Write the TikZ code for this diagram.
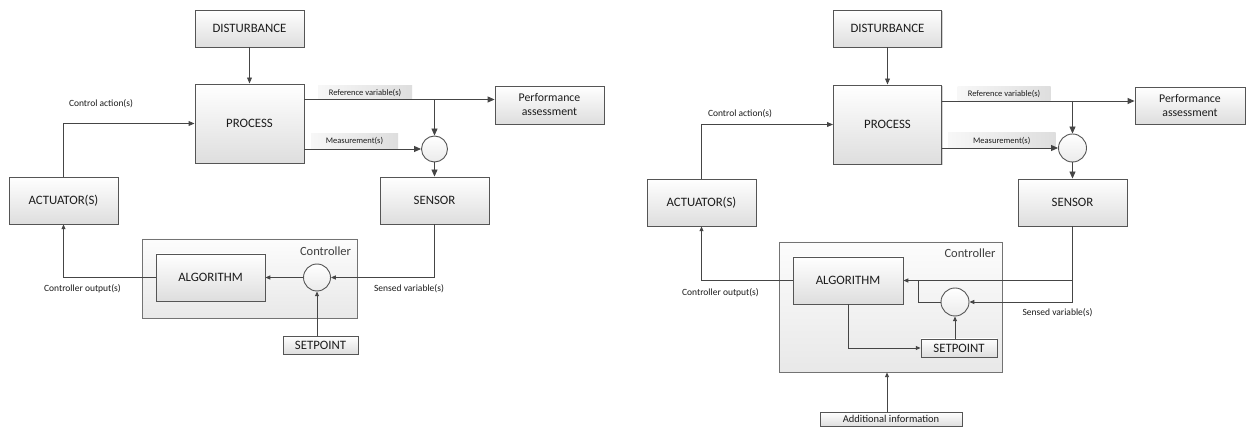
\documentclass[tikz,border=0pt]{standalone}
\usepackage{fontspec}
\setmainfont{Carlito}
\usetikzlibrary{arrows.meta,shadows}
\definecolor{linec}{HTML}{454545}
\definecolor{boxb}{HTML}{555555}
\definecolor{txt}{HTML}{1C1C1C}
\tikzset{
  sz/.style 2 args={minimum width=#1, minimum height=#2},
  shad/.style={drop shadow={shadow xshift=1.3pt,shadow yshift=-1.3pt,fill=black!35,opacity=0.5}},
  box/.style={draw=boxb, line width=0.9pt, top color=white, bottom color=black!13, inner sep=0pt,
    align=center, text=txt, font=\fontsize{12.8}{14.5}\selectfont, shad},
  pbox/.style={box, font=\fontsize{11.8}{14}\selectfont},
  sbox/.style={box, font=\fontsize{10.5}{12}\selectfont},
  cbox/.style={draw=black!55, line width=0.8pt, top color=black!1, bottom color=black!9, inner sep=0pt, shad},
  sumnode/.style={circle, draw=boxb, line width=0.9pt, top color=white, bottom color=black!8,
    minimum size=#1, inner sep=0pt},
  tagbox/.style={left color=black!3, right color=black!13, inner sep=0pt, text=txt,
    font=\fontsize{8.5}{10}\selectfont},
  lbl/.style={inner sep=0pt, text=txt, font=\fontsize{9.5}{11}\selectfont},
  ctl/.style={inner sep=0pt, text=txt!85, font=\fontsize{12.5}{14}\selectfont},
  conn/.style={draw=linec, line width=0.9pt},
  arr/.style={conn, -{Triangle[length=6pt,width=4.8pt]}},
  arrbig/.style={conn, -{Triangle[length=7pt,width=6pt]}},
  arrsm/.style={conn, -{Triangle[length=4.8pt,width=4pt]}},
}
\begin{document}
\begin{tikzpicture}[x=1pt,y=-1pt]
\useasboundingbox[fill=white] (0,0) rectangle (1248,427);

% ================= LEFT DIAGRAM =================
\node[box, sz={109pt}{37pt}] (dist1) at (249.5,28.5) {DISTURBANCE};
\node[box, sz={109pt}{79pt}] (proc1) at (249.5,123.5) {PROCESS};
\node[pbox, sz={109pt}{38pt}] (perf1) at (549.5,105) {Performance\\assessment};
\node[box, sz={109pt}{47pt}] (act1) at (63.5,200.5) {ACTUATOR(S)};
\node[box, sz={109pt}{47pt}] (sens1) at (434.5,200.5) {SENSOR};
\node[sumnode=26pt] (circ1) at (434.5,149) {};
\node[cbox, sz={215pt}{79pt}] (ctrl1) at (249.5,278.5) {};
\node[ctl] (tctl1) at (325.5,251) {Controller};
\node[box, sz={109pt}{47pt}] (alg1) at (210.5,277.5) {ALGORITHM};
\node[sumnode=27pt] (cmp1) at (317,277.5) {};
\node[box, sz={75pt}{18pt}] (set1) at (320.5,345) {SETPOINT};

\node[tagbox, sz={94pt}{13.5pt}] (tref1) at (365,92.75) {Reference variable(s)};
\node[tagbox, sz={87pt}{14.5pt}] (tmeas1) at (354.5,141.25) {Measurement(s)};
\node[lbl] (tca1) at (101,103.5) {Control action(s)};
\node[lbl] (tco1) at (82.5,289) {Controller output(s)};
\node[lbl] (tsv1) at (409,289) {Sensed variable(s)};

\coordinate (ref1) at (434.5,99.5);
\draw[arr] (dist1) -- (proc1);
\draw[arrbig] (proc1.east |- ref1) -- (perf1.west |- ref1);
\draw[arrbig] (ref1) -- (circ1.north);
\draw[arrbig] (proc1.east |- circ1) -- (circ1.west);
\draw[arrbig] (circ1.south) -- (circ1.south |- sens1.north);
\draw[arr] (act1.north) |- (proc1.west);
\draw[arrsm] (alg1.west) -| (act1.south);
\draw[arrsm] (cmp1.west) -- (alg1.east |- cmp1);
\draw[arrsm] (sens1.south) |- (cmp1.east);
\draw[arrsm] (set1.north -| cmp1) -- (cmp1.south);

% ================= RIGHT DIAGRAM =================
\node[box, sz={108pt}{37pt}] (dist2) at (887.5,28.5) {DISTURBANCE};
\node[box, sz={108pt}{79pt}] (proc2) at (887.5,124.5) {PROCESS};
\node[pbox, sz={110pt}{37pt}] (perf2) at (1190,105.5) {Performance\\assessment};
\node[box, sz={109pt}{47pt}] (act2) at (701.5,202.5) {ACTUATOR(S)};
\node[box, sz={109pt}{47pt}] (sens2) at (1072.5,202.5) {SENSOR};
\node[sumnode=28pt] (circ2) at (1072.5,148) {};
\node[cbox, sz={223pt}{130pt}] (ctrl2) at (890.5,307) {};
\node[ctl] (tctl2) at (970,253) {Controller};
\node[box, sz={110pt}{47pt}] (alg2) at (848,280.5) {ALGORITHM};
\node[sumnode=28pt] (cmp2) at (955,302) {};
\node[box, sz={76pt}{18pt}] (set2) at (959,348) {SETPOINT};
\node[sbox, sz={142pt}{14.3pt}] (add2) at (891,419.2) {Additional information};

\node[tagbox, sz={93pt}{14pt}] (tref2) at (1004,94) {Reference variable(s)};
\node[tagbox, sz={107.5pt}{15pt}] (tmeas2) at (1001.75,140.5) {Measurement(s)};
\node[lbl] (tca2) at (740,113.5) {Control action(s)};
\node[lbl] (tco2) at (720.5,293) {Controller output(s)};
\node[lbl] (tsv2) at (1057.5,313) {Sensed variable(s)};

\coordinate (ref2) at (1072.5,101);
\coordinate (jn2) at (918,302);
\coordinate (ai2) at (887,0);
\draw[arr] (dist2) -- (proc2);
\draw[arrbig] (proc2.east |- ref2) -- (perf2.west |- ref2);
\draw[arrbig] (ref2) -- (circ2.north);
\draw[arrbig] (proc2.east |- circ2) -- (circ2.west);
\draw[arrbig] (circ2.south) -- (circ2.south |- sens2.north);
\draw[arr] (act2.north) |- (proc2.west);
\draw[arrsm] (alg2.west) -| (act2.south);
\draw[arrsm] (sens2.south) |- (cmp2.east);
\draw[arrsm] (sens2.south |- alg2) -- (alg2.east);
\draw[conn] (cmp2.west) -- (jn2) -- (jn2 |- alg2);
\draw[arrsm] (set2.north -| cmp2) -- (cmp2.south);
\draw[arrsm] (alg2.south) |- (set2.west);
\draw[arrsm] (add2.north -| ai2) -- (ctrl2.south -| ai2);
\end{tikzpicture}
\end{document}
